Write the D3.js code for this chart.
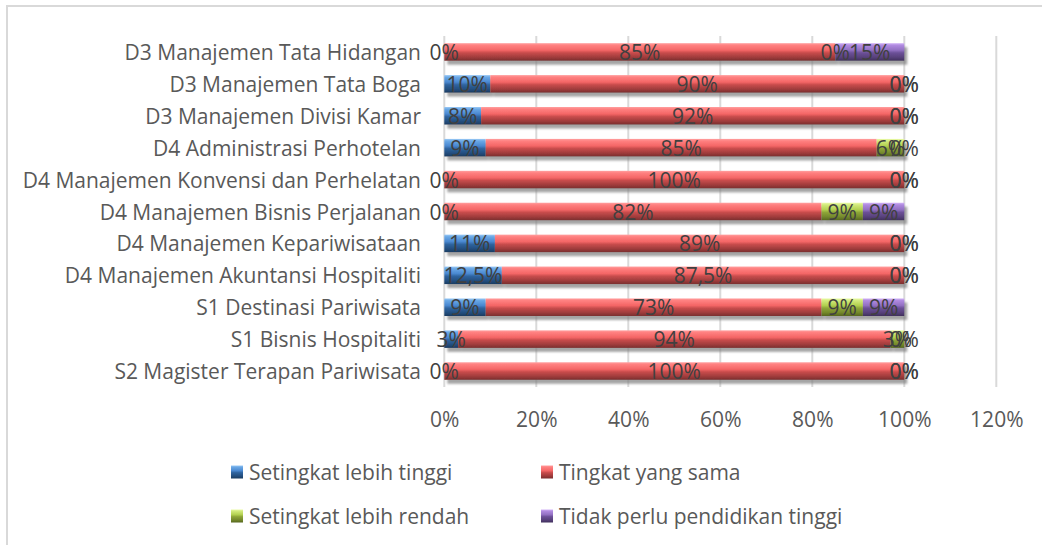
<!DOCTYPE html>
<html>
<head>
<meta charset="utf-8">
<script src="https://cdn.jsdelivr.net/npm/d3@7"></script>
<style>
  html, body { margin: 0; padding: 0; background: #fff; }
  svg text { font-family: "Open Sans", "Lato", sans-serif; }
</style>
</head>
<body>
<svg id="chart" width="1042" height="545"></svg>
<script>
// ---- data ----
const categories = [
  "D3 Manajemen Tata Hidangan",
  "D3 Manajemen Tata Boga",
  "D3 Manajemen Divisi Kamar",
  "D4 Administrasi Perhotelan",
  "D4 Manajemen Konvensi dan Perhelatan",
  "D4 Manajemen Bisnis Perjalanan",
  "D4 Manajemen Kepariwisataan",
  "D4 Manajemen Akuntansi Hospitaliti",
  "S1 Destinasi Pariwisata",
  "S1 Bisnis Hospitaliti",
  "S2 Magister Terapan Pariwisata"
];
const seriesNames = ["Setingkat lebih tinggi", "Tingkat yang sama", "Setingkat lebih rendah", "Tidak perlu pendidikan tinggi"];
const higher = [0, 10, 8, 9, 0, 0, 11, 12.5, 9, 3, 0];
const same   = [85, 90, 92, 85, 100, 82, 89, 87.5, 73, 94, 100];
const lower  = [0, 0, 0, 6, 0, 9, 0, 0, 9, 3, 0];
const none   = [15, 0, 0, 0, 0, 9, 0, 0, 9, 0, 0];
const tickValues = [0, 20, 40, 60, 80, 100, 120];

const seriesValues = [higher, same, lower, none];
const gradOffsets = [0, 0.12, 0.4, 0.55, 0.8, 1];
const gradStops = [
  ["#9ccaf5", "#6aa8e6", "#4a88d0", "#2f64a0", "#244f80", "#1a3b60"],
  ["#ffa0a0", "#ff8080", "#f46666", "#c84c4c", "#a03c3c", "#7a2e2e"],
  ["#eafaa8", "#d2ea7c", "#b2d050", "#8ea638", "#74892c", "#56661e"],
  ["#d2b4f6", "#b08ae0", "#9270c2", "#6c5098", "#58417c", "#40305c"]
];

const svg = d3.select("#chart");
const defs = svg.append("defs");
gradStops.forEach((stops, i) => {
  const g = defs.append("linearGradient").attr("id", "grad" + i)
    .attr("x1", 0).attr("y1", 0).attr("x2", 0).attr("y2", 1);
  gradOffsets.forEach((o, k) => g.append("stop").attr("offset", o).attr("stop-color", stops[k]));
});
const f = defs.append("filter").attr("id", "shadow")
  .attr("x", "-5%").attr("y", "-50%").attr("width", "110%").attr("height", "220%");
f.append("feDropShadow").attr("dx", 3).attr("dy", 4).attr("stdDeviation", 1.3)
  .attr("flood-color", "#7f7f7f").attr("flood-opacity", 0.7);

// chart border
svg.append("rect").attr("x", 7).attr("y", 6).attr("width", 1100).attr("height", 600)
  .attr("fill", "none").attr("stroke", "#d9d9d9").attr("stroke-width", 2);

const x = d3.scaleLinear().domain([0, 120]).range([444.3, 996.3]);
const y = d3.scaleBand().domain(categories).range([36, 387]).paddingInner(0.45).paddingOuter(0.225);

// gridlines
svg.append("g").selectAll("line").data(tickValues).join("line")
  .attr("x1", d => x(d)).attr("x2", d => x(d))
  .attr("y1", 36).attr("y2", 387)
  .attr("stroke", "#d9d9d9").attr("stroke-width", 2);

// x axis tick labels
const xAxis = d3.axisBottom(x).tickValues(tickValues).tickFormat(d => d + "%").tickSize(0).tickPadding(0);
const gx = svg.append("g").attr("transform", "translate(0,405)").call(xAxis);
gx.select(".domain").remove();
gx.selectAll("text").attr("fill", "#595959").attr("font-size", "21px")
  .attr("dy", null).attr("dominant-baseline", "central").attr("y", 14);

// category labels
const yAxis = d3.axisLeft(y).tickSize(0).tickPadding(0);
const gy = svg.append("g").attr("transform", "translate(421,0)").call(yAxis);
gy.select(".domain").remove();
gy.selectAll("text").attr("fill", "#595959").attr("font-size", "21px")
  .attr("dy", null).attr("dominant-baseline", "central");

// stacked data
const rows = categories.map((c, i) => {
  let acc = 0;
  return { cat: c, segs: seriesValues.map((s, k) => { const v = s[i]; const seg = { k, v, x0: acc, x1: acc + v }; acc += v; return seg; }) };
});

const rowG = svg.append("g").selectAll("g").data(rows).join("g")
  .attr("transform", d => `translate(0,${y(d.cat)})`);
rowG.append("g").attr("filter", "url(#shadow)")
  .selectAll("rect").data(d => d.segs.filter(s => s.v > 0)).join("rect")
  .attr("x", s => x(s.x0)).attr("width", s => x(s.x1) - x(s.x0))
  .attr("y", 0).attr("height", y.bandwidth())
  .attr("fill", s => `url(#grad${s.k})`);

// data labels, drawn series by series
const fmt = v => String(v).replace(".", ",") + "%";
for (let k = 0; k < 4; k++) {
  svg.append("g").selectAll("text").data(rows).join("text")
    .attr("x", d => x((d.segs[k].x0 + d.segs[k].x1) / 2))
    .attr("y", d => y(d.cat) + y.bandwidth() / 2)
    .attr("text-anchor", "middle").attr("dominant-baseline", "central")
    .attr("fill", "#404040").attr("font-size", "21px")
    .text(d => fmt(d.segs[k].v));
}

// legend
const legendItems = seriesNames.map((n, i) => ({ n, i, col: i % 2, row: Math.floor(i / 2) }));
const lg = svg.append("g").selectAll("g").data(legendItems).join("g")
  .attr("transform", d => `translate(${d.col ? 541 : 231},${d.row ? 516 : 472})`);
lg.append("rect").attr("x", 0).attr("y", -6.5).attr("width", 12).attr("height", 13)
  .attr("fill", d => `url(#grad${d.i})`);
lg.append("text").attr("x", 18).attr("y", 0).attr("dominant-baseline", "central")
  .attr("fill", "#595959").attr("font-size", "21px").text(d => d.n);
</script>
</body>
</html>
